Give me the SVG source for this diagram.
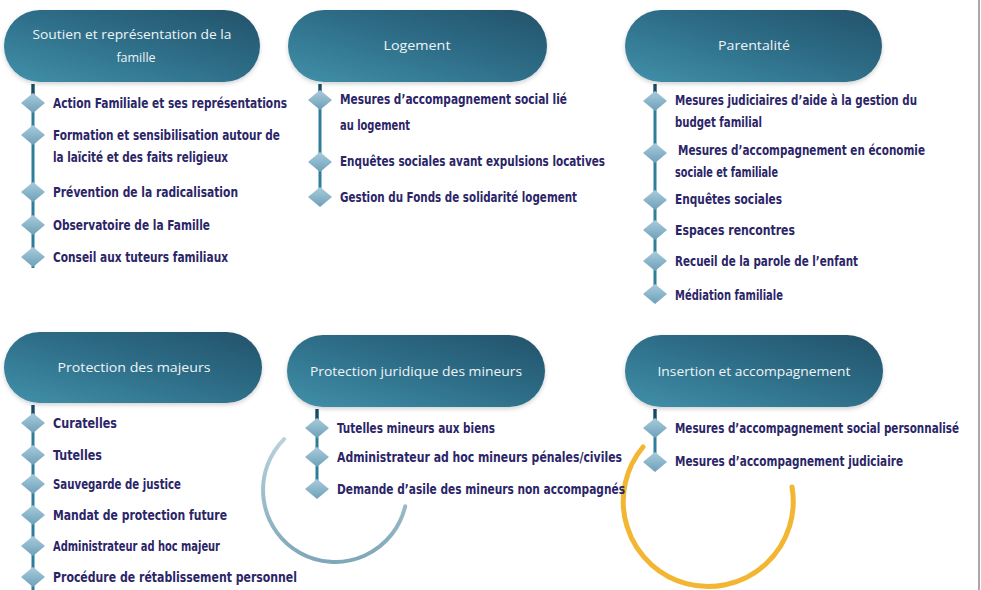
<svg xmlns="http://www.w3.org/2000/svg" width="981" height="590" viewBox="0 0 981 590">
<defs>
<linearGradient id="pillGrad" x1="1" y1="0" x2="0" y2="1">
<stop offset="0" stop-color="#23526a"/>
<stop offset="0.55" stop-color="#30728c"/>
<stop offset="1" stop-color="#4290aa"/>
</linearGradient>
<linearGradient id="diaGrad" x1="0" y1="0" x2="0" y2="1">
<stop offset="0" stop-color="#a9cbdb"/>
<stop offset="0.5" stop-color="#8bb6cb"/>
<stop offset="1" stop-color="#6e9fb7"/>
</linearGradient>
<linearGradient id="blueArc" x1="0" y1="0" x2="0" y2="1">
<stop offset="0" stop-color="#b9d1dc"/>
<stop offset="1" stop-color="#7ea7b8"/>
</linearGradient>
<filter id="sh" x="-10%" y="-20%" width="120%" height="150%">
<feDropShadow dx="0" dy="2" stdDeviation="2" flood-color="#000" flood-opacity="0.18"/>
</filter>
<polygon id="dia" points="-12,0 0,-10 12,0 0,10"/>
</defs>
<style>
.pill{fill:url(#pillGrad);filter:url(#sh)}
.pt{font-family:"Open Sans","Liberation Sans",sans-serif;font-size:12.5px;fill:#eef4f7;text-anchor:middle}
.it{font-family:"Liberation Sans Narrow","DejaVu Sans Condensed","Liberation Sans",sans-serif;font-stretch:condensed;font-weight:bold;font-size:13.5px;fill:#2b2568}
.stem{stroke:#2f7d99;stroke-width:3}
.stemtop{stroke:#1d4960;stroke-width:3}
.d{fill:url(#diaGrad)}
</style>
<rect width="981" height="590" fill="#ffffff"/>
<line x1="979" y1="0" x2="979" y2="590" stroke="#a8a8a8" stroke-width="2"/>

<g id="decor">
<path d="M284.1,439.1 A72,72 0 1 0 405.2,506.2" fill="none" stroke="url(#blueArc)" stroke-width="4" stroke-linecap="round"/>
<path d="M643,447 A85,85 0 1 0 792,487" fill="none" stroke="#f2b632" stroke-width="5" stroke-linecap="round"/>
</g>

<g id="connectors">
<line class="stem" x1="33" y1="84" x2="33" y2="268"/><line class="stemtop" x1="33" y1="84" x2="33" y2="95"/>
<line class="stem" x1="320" y1="84" x2="320" y2="200"/><line class="stemtop" x1="320" y1="84" x2="320" y2="95"/>
<line class="stem" x1="655" y1="84" x2="655" y2="302"/><line class="stemtop" x1="655" y1="84" x2="655" y2="95"/>
<line class="stem" x1="33" y1="405" x2="33" y2="590"/><line class="stemtop" x1="33" y1="405" x2="33" y2="416"/>
<line class="stem" x1="317" y1="409" x2="317" y2="493"/><line class="stemtop" x1="317" y1="409" x2="317" y2="420"/>
<line class="stem" x1="655" y1="409" x2="655" y2="465"/><line class="stemtop" x1="655" y1="409" x2="655" y2="420"/>
</g>

<g id="n1">
<rect class="pill" x="4" y="10" width="256" height="72" rx="36"/>
<text class="pt" x="132" y="39" textLength="199" lengthAdjust="spacingAndGlyphs">Soutien et représentation de la</text>
<text class="pt" x="136" y="62">famille</text>
<use href="#dia" class="d" x="33" y="103"/>
<use href="#dia" class="d" x="33" y="135"/>
<use href="#dia" class="d" x="33" y="192"/>
<use href="#dia" class="d" x="33" y="225"/>
<use href="#dia" class="d" x="33" y="257"/>
<text class="it" x="53" y="108" textLength="234" lengthAdjust="spacingAndGlyphs">Action Familiale et ses représentations</text>
<text class="it" x="53" y="140" textLength="227" lengthAdjust="spacingAndGlyphs">Formation et sensibilisation autour de</text>
<text class="it" x="53" y="162" textLength="175" lengthAdjust="spacingAndGlyphs">la laïcité et des faits religieux</text>
<text class="it" x="53" y="197" textLength="185" lengthAdjust="spacingAndGlyphs">Prévention de la radicalisation</text>
<text class="it" x="53" y="230" textLength="157" lengthAdjust="spacingAndGlyphs">Observatoire de la Famille</text>
<text class="it" x="53" y="262" textLength="175" lengthAdjust="spacingAndGlyphs">Conseil aux tuteurs familiaux</text>
</g>

<g id="n2">
<rect class="pill" x="288" y="10" width="259" height="72" rx="36"/>
<text class="pt" x="417" y="50" textLength="67" lengthAdjust="spacingAndGlyphs">Logement</text>
<use href="#dia" class="d" x="320" y="100"/>
<use href="#dia" class="d" x="320" y="162"/>
<use href="#dia" class="d" x="320" y="197"/>
<text class="it" x="340" y="104" textLength="227" lengthAdjust="spacingAndGlyphs">Mesures d’accompagnement social lié</text>
<text class="it" x="340" y="130" textLength="70" lengthAdjust="spacingAndGlyphs">au logement</text>
<text class="it" x="340" y="166" textLength="265" lengthAdjust="spacingAndGlyphs">Enquêtes sociales avant expulsions locatives</text>
<text class="it" x="340" y="202" textLength="237" lengthAdjust="spacingAndGlyphs">Gestion du Fonds de solidarité logement</text>
</g>

<g id="n3">
<rect class="pill" x="625" y="10" width="257" height="72" rx="36"/>
<text class="pt" x="754" y="50" textLength="72" lengthAdjust="spacingAndGlyphs">Parentalité</text>
<use href="#dia" class="d" x="655" y="101"/>
<use href="#dia" class="d" x="655" y="153"/>
<use href="#dia" class="d" x="655" y="200"/>
<use href="#dia" class="d" x="655" y="230"/>
<use href="#dia" class="d" x="655" y="261"/>
<use href="#dia" class="d" x="655" y="294"/>
<text class="it" x="675" y="105" textLength="242" lengthAdjust="spacingAndGlyphs">Mesures judiciaires d’aide à la gestion du</text>
<text class="it" x="675" y="127" textLength="87" lengthAdjust="spacingAndGlyphs">budget familial</text>
<text class="it" x="678" y="155" textLength="247" lengthAdjust="spacingAndGlyphs">Mesures d’accompagnement en économie</text>
<text class="it" x="675" y="177" textLength="103" lengthAdjust="spacingAndGlyphs">sociale et familiale</text>
<text class="it" x="675" y="204" textLength="107" lengthAdjust="spacingAndGlyphs">Enquêtes sociales</text>
<text class="it" x="675" y="235" textLength="120" lengthAdjust="spacingAndGlyphs">Espaces rencontres</text>
<text class="it" x="675" y="266" textLength="183" lengthAdjust="spacingAndGlyphs">Recueil de la parole de l’enfant</text>
<text class="it" x="675" y="300" textLength="108" lengthAdjust="spacingAndGlyphs">Médiation familiale</text>
</g>

<g id="n4">
<rect class="pill" x="4" y="332" width="258" height="71" rx="35.5"/>
<text class="pt" x="134" y="372" textLength="153" lengthAdjust="spacingAndGlyphs">Protection des majeurs</text>
<use href="#dia" class="d" x="33" y="423"/>
<use href="#dia" class="d" x="33" y="455"/>
<use href="#dia" class="d" x="33" y="484"/>
<use href="#dia" class="d" x="33" y="515"/>
<use href="#dia" class="d" x="33" y="546"/>
<use href="#dia" class="d" x="33" y="577"/>
<text class="it" x="53" y="428" textLength="64" lengthAdjust="spacingAndGlyphs">Curatelles</text>
<text class="it" x="53" y="460" textLength="49" lengthAdjust="spacingAndGlyphs">Tutelles</text>
<text class="it" x="53" y="489" textLength="128" lengthAdjust="spacingAndGlyphs">Sauvegarde de justice</text>
<text class="it" x="53" y="520" textLength="174" lengthAdjust="spacingAndGlyphs">Mandat de protection future</text>
<text class="it" x="53" y="551" textLength="167" lengthAdjust="spacingAndGlyphs">Administrateur ad hoc majeur</text>
<text class="it" x="53" y="582" textLength="244" lengthAdjust="spacingAndGlyphs">Procédure de rétablissement personnel</text>
</g>

<g id="n5">
<rect class="pill" x="287" y="335" width="258" height="72" rx="36"/>
<text class="pt" x="416" y="376" textLength="212" lengthAdjust="spacingAndGlyphs">Protection juridique des mineurs</text>
<use href="#dia" class="d" x="317" y="428"/>
<use href="#dia" class="d" x="317" y="457"/>
<use href="#dia" class="d" x="317" y="489"/>
<text class="it" x="337" y="433" textLength="158" lengthAdjust="spacingAndGlyphs">Tutelles mineurs aux biens</text>
<text class="it" x="337" y="462" textLength="285" lengthAdjust="spacingAndGlyphs">Administrateur ad hoc mineurs pénales/civiles</text>
<text class="it" x="337" y="494" textLength="288" lengthAdjust="spacingAndGlyphs">Demande d’asile des mineurs non accompagnés</text>
</g>

<g id="n6">
<rect class="pill" x="625" y="335" width="258" height="72" rx="36"/>
<text class="pt" x="754" y="376" textLength="193" lengthAdjust="spacingAndGlyphs">Insertion et accompagnement</text>
<use href="#dia" class="d" x="655" y="428"/>
<use href="#dia" class="d" x="655" y="462"/>
<text class="it" x="675" y="433" textLength="284" lengthAdjust="spacingAndGlyphs">Mesures d’accompagnement social personnalisé</text>
<text class="it" x="675" y="466" textLength="228" lengthAdjust="spacingAndGlyphs">Mesures d’accompagnement judiciaire</text>
</g>
</svg>
